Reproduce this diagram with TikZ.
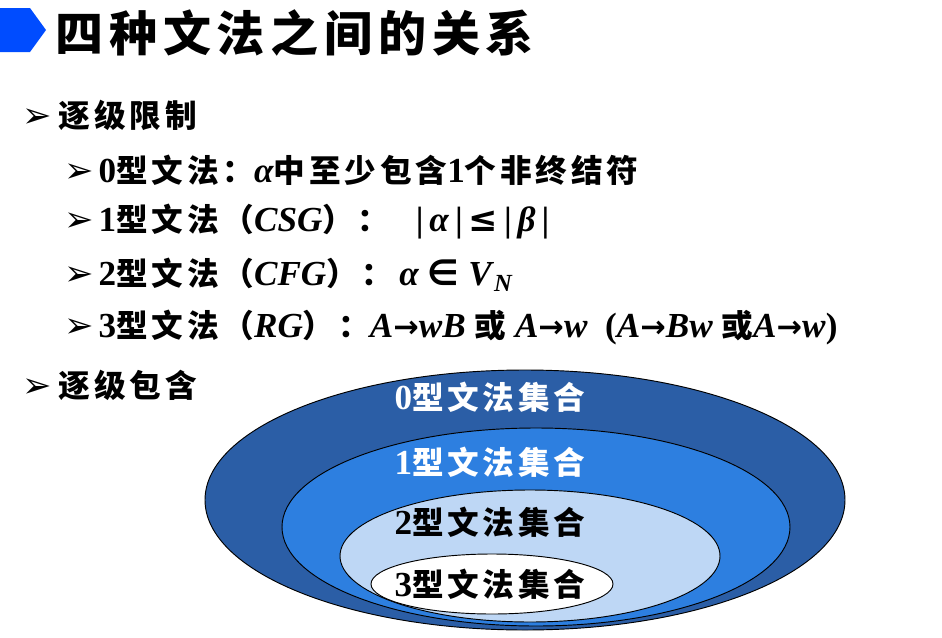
\documentclass[tikz,border=0pt]{standalone}
\usepackage{fontspec}
\setmainfont{Liberation Serif}
\newfontfamily\cjk{Noto Sans CJK SC}[LetterSpace=12]
\newfontfamily\dv{DejaVu Sans}
\newcommand{\tip}{{\dv\bfseries\fontsize{30}{30}\selectfont ➢}}
\newcommand{\ar}{{\fontsize{26}{30}\selectfont\dv →}}
\begin{document}
\begin{tikzpicture}[x=0.03cm, y=-0.03cm, thick,
    every node/.style={font=\fontsize{30}{32}\selectfont\bfseries, inner sep=0pt},
    line/.style={anchor=west},
    setbox/.style={draw=black, line width=0.8pt}]
    \useasboundingbox (0,0) rectangle (942,637);
    % TITLE
    \fill[blue!70!cyan] (0,8) -- (30,8) -- (46,30) -- (30,52) -- (0,52) -- cycle;
    \node (title) at (55,33) [anchor=west, font=\fontsize{41}{44}\selectfont\bfseries] {\cjk 四种文法之间的关系};

    % TEXT LINES
    \node (lim) at (22,115) [line] {\tip\hspace{6pt}{\fontsize{27}{30}\selectfont\cjk 逐级限制}};
    \node (g0) at (64,170) [line] {\tip\hspace{4pt}0{\fontsize{27}{30}\selectfont\cjk 型文法：}\textit{α}{\fontsize{27}{30}\selectfont\cjk 中至少包含}1{\fontsize{27}{30}\selectfont\cjk 个非终结符}};
    \node (g1) at (64,222) [line] {\tip\hspace{4pt}1{\fontsize{27}{30}\selectfont\cjk 型文法（}\textit{CSG}{\fontsize{27}{30}\selectfont\cjk ）：}\ \ \ |\,\textit{α}\,|\,{\dv ≤}\,|\,\textit{β}\,|};
    \node (g2) at (64,275) [line] {\tip\hspace{4pt}2{\fontsize{27}{30}\selectfont\cjk 型文法（}\textit{CFG}{\fontsize{27}{30}\selectfont\cjk ）：}\,\textit{α} {\dv ∈} \textit{V}\textsubscript{\textit{N}}};
    \node (g3) at (64,328) [line] {\tip\hspace{4pt}3{\fontsize{27}{30}\selectfont\cjk 型文法（}\textit{RG}{\fontsize{27}{30}\selectfont\cjk ）：}\textit{A}\ar\textit{wB} {\fontsize{27}{30}\selectfont\cjk 或} \textit{A}\ar\textit{w}\ \ (\textit{A}\ar\textit{Bw} {\fontsize{27}{30}\selectfont\cjk 或}\textit{A}\ar\textit{w})};
    \node (inc) at (22,385) [line] {\tip\hspace{6pt}{\fontsize{27}{30}\selectfont\cjk 逐级包含}};

    % NESTED SETS
    \draw[setbox, fill={rgb,255:red,43;green,94;blue,166}] (525,500) ellipse [x radius=320, y radius=130];
    \draw[setbox, fill={rgb,255:red,45;green,127;blue,224}] (536,527) ellipse [x radius=254, y radius=99];
    \draw[setbox, fill={rgb,255:red,190;green,215;blue,245}] (530,556) ellipse [x radius=190, y radius=66];
    \draw[setbox, fill=white] (492,584) ellipse [x radius=121, y radius=30];
    \node (s0) at (490,397) [text=white] {0{\fontsize{27}{30}\selectfont\cjk 型文法集合}};
    \node (s1) at (490,462) [text=white] {1{\fontsize{27}{30}\selectfont\cjk 型文法集合}};
    \node (s2) at (490,522) {2{\fontsize{27}{30}\selectfont\cjk 型文法集合}};
    \node (s3) at (490,584) {3{\fontsize{27}{30}\selectfont\cjk 型文法集合}};
\end{tikzpicture}
\end{document}
